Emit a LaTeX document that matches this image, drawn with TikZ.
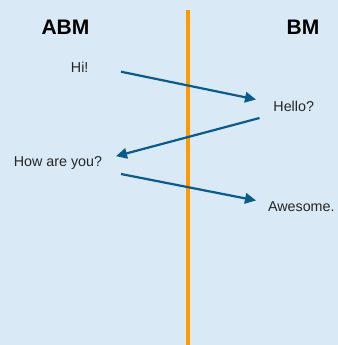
\documentclass[tikz,border=0pt]{standalone}
\usepackage{fontspec}
\setmainfont{Liberation Sans}
\usetikzlibrary{arrows.meta}
\definecolor{bg}{HTML}{D9E9F6}
\definecolor{axis}{HTML}{FF9A00}
\definecolor{msg}{HTML}{0B5A8C}
\tikzset{
  lbl/.style={inner sep=0pt, anchor=base, font=\fontsize{14.3bp}{16bp}\selectfont, text=black!85},
  head/.style={inner sep=0pt, anchor=base, font=\fontsize{21bp}{24bp}\selectfont\bfseries},
  msgarrow/.style={draw=msg, line width=2.2bp, -{Triangle[length=11bp,width=10.5bp]}},
}
\begin{document}
\begin{tikzpicture}[x=1bp,y=-1bp]
\fill[bg] (0,0) rectangle (338,345);
\useasboundingbox (0,0) rectangle (338,345);
\coordinate (ltop) at (188,10);
\coordinate (lbot) at (188,345);
\draw[axis, line width=4bp] (ltop) -- (lbot);
\node[head] (abm) at (65.5,34.3) {ABM};
\node[head] (bm) at (303,34.3) {BM};
\node[lbl] (hi) at (79.7,72.3) {Hi!};
\node[lbl] (hello) at (293.7,111) {Hello?};
\node[lbl] (how) at (58,166) {How are you?};
\node[lbl] (awe) at (301.3,211.7) {Awesome.};
\coordinate (a1s) at (121,71.7);
\coordinate (a1e) at (256,99.5);
\coordinate (a2s) at (259.5,118);
\coordinate (a2e) at (116,156.2);
\coordinate (a3s) at (121,174);
\coordinate (a3e) at (256,200.5);
\draw[msgarrow] (a1s) -- (a1e);
\draw[msgarrow] (a2s) -- (a2e);
\draw[msgarrow] (a3s) -- (a3e);
\end{tikzpicture}
\end{document}
